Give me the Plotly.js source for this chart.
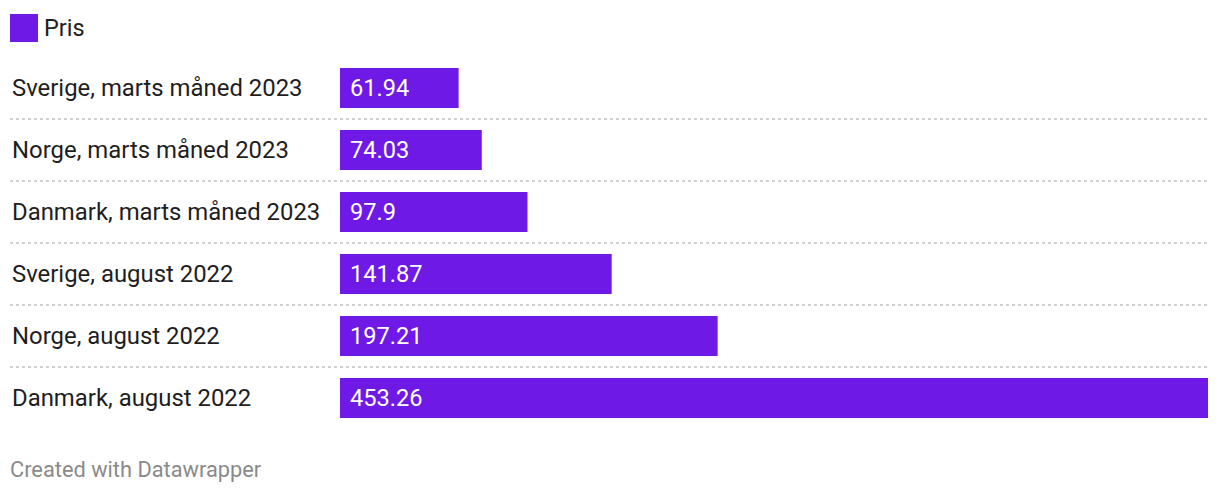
<!DOCTYPE html>
<html>
<head>
<meta charset="utf-8">
<script src="https://cdn.plot.ly/plotly-3.0.1.min.js"></script>
<style>
html,body{margin:0;padding:0;background:#fff;}
#chart{width:1220px;height:496px;}
</style>
</head>
<body>
<div id="chart"></div>
<script>
const categories = [
  "Sverige, marts måned 2023",
  "Norge, marts måned 2023",
  "Danmark, marts måned 2023",
  "Sverige, august 2022",
  "Norge, august 2022",
  "Danmark, august 2022"
];
const prices = [61.94, 74.03, 97.9, 141.87, 197.21, 453.26];
const seriesName = "Pris";
const footerText = "Created with Datawrapper";

const W = 1220, H = 496;
const L = 340, R = 12, T = 57, B = 67;
const plotW = W - L - R;
const barColor = "#6f19e7";
const font = "Roboto, 'Noto Sans', sans-serif";

const px2paperX = p => (p - L) / plotW;
const px2paperY = p => 1 - (p - T) / (H - T - B);

const trace = {
  type: "bar",
  orientation: "h",
  name: seriesName,
  y: categories,
  x: prices,
  marker: {color: barColor},
  hoverinfo: "none",
  showlegend: false
};

const annotations = [];
const shapes = [];

categories.forEach((c, i) => {
  annotations.push({
    xref: "paper", yref: "y", x: px2paperX(10), y: c,
    xanchor: "left", yanchor: "middle", showarrow: false,
    text: c, font: {family: font, size: 23.9, color: "#1e1e1e"}
  });
  annotations.push({
    xref: "x", yref: "y", x: 0, y: c, xshift: 8,
    xanchor: "left", yanchor: "middle", showarrow: false,
    text: String(prices[i]), font: {family: font, size: 23.6, color: "#ffffff"}
  });
  if (i < categories.length - 1) {
    shapes.push({
      type: "line", xref: "paper", yref: "y",
      x0: px2paperX(10), x1: 1, y0: i + 0.5, y1: i + 0.5,
      line: {color: "#d0d0d0", width: 2, dash: "dot"}
    });
  }
});

// legend
shapes.push({
  type: "rect", xref: "paper", yref: "paper",
  x0: px2paperX(10), x1: px2paperX(38), y0: px2paperY(42), y1: px2paperY(14),
  fillcolor: barColor, line: {width: 0}
});
annotations.push({
  xref: "paper", yref: "paper", x: px2paperX(42), y: px2paperY(28),
  xanchor: "left", yanchor: "middle", showarrow: false,
  text: seriesName, font: {family: font, size: 23.5, color: "#1e1e1e"}
});
// footer
annotations.push({
  xref: "paper", yref: "paper", x: px2paperX(8), y: px2paperY(470),
  xanchor: "left", yanchor: "middle", showarrow: false,
  text: footerText, font: {family: font, size: 21.8, color: "#8a8a8a"}
});

const layout = {
  width: W, height: H,
  margin: {l: L, r: R, t: T, b: B, pad: 0},
  paper_bgcolor: "#fff", plot_bgcolor: "#fff",
  bargap: 1 - 40 / 62,
  xaxis: {range: [0, Math.max(...prices)], visible: false, fixedrange: true},
  yaxis: {type: "category", categoryarray: categories, range: [categories.length - 0.5, -0.5],
          showticklabels: false, showgrid: false, zeroline: false, showline: false, ticks: ""},
  shapes: shapes,
  annotations: annotations,
  showlegend: false
};

Plotly.newPlot("chart", [trace], layout, {displayModeBar: false, staticPlot: true});
</script>
</body>
</html>
